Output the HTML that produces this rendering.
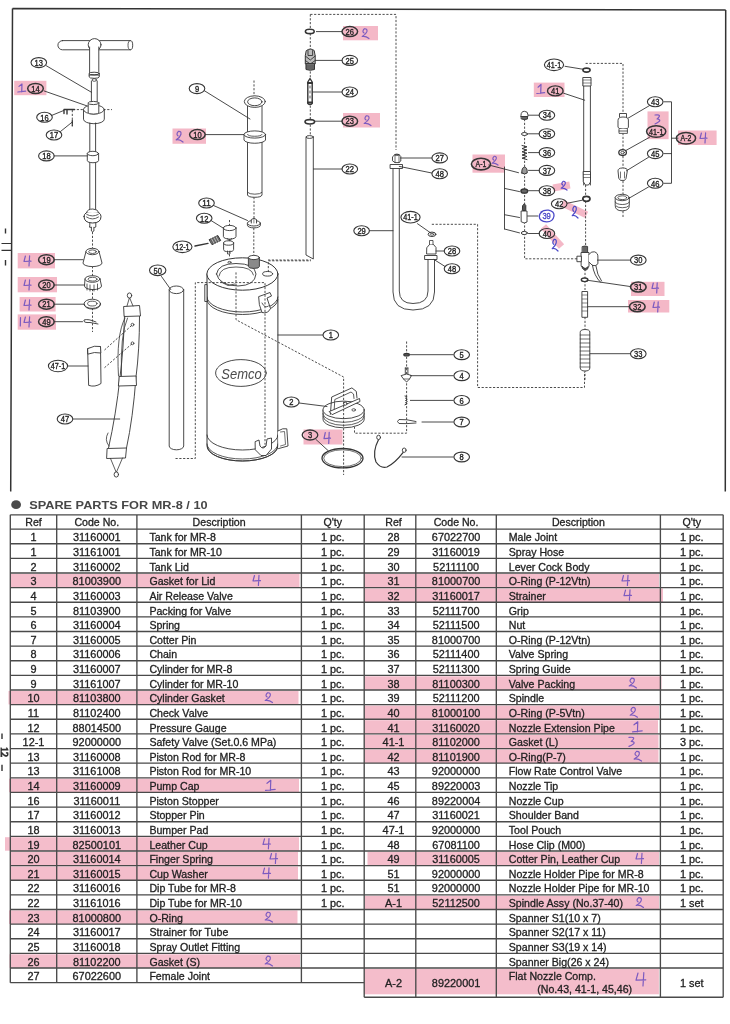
<!DOCTYPE html>
<html><head><meta charset="utf-8"><style>
html,body{margin:0;padding:0;background:#fff;}
body{width:730px;height:1024px;overflow:hidden;position:relative;}
svg{position:absolute;left:0;top:0;display:block;filter:blur(0.3px);}
</style></head><body>
<svg width="730" height="1024" viewBox="0 0 730 1024">
<g fill="#f4b2c2" opacity="0.92"><rect x="14.2" y="80.8" width="32.2" height="14.4"/><rect x="17.7" y="253.0" width="37.3" height="15.4"/><rect x="17.7" y="277.0" width="39.3" height="15.3"/><rect x="19.6" y="297.0" width="36.0" height="14.5"/><rect x="17.7" y="314.4" width="38.3" height="15.3"/><rect x="172.5" y="128.5" width="33.5" height="15.3"/><rect x="303.5" y="429.5" width="39.0" height="15.0"/><rect x="343.0" y="26.0" width="35.0" height="14.3"/><rect x="343.0" y="113.0" width="37.0" height="14.5"/><rect x="472.5" y="154.5" width="32.5" height="18.2"/><rect x="553.0" y="183.0" width="17.0" height="7.0" transform="rotate(-10 561.5 186.5)"/><rect x="561.0" y="205.5" width="27.0" height="7.0" transform="rotate(26 574.5 209.0)"/><rect x="539.0" y="233.0" width="27.0" height="7.0" transform="rotate(48 552.5 236.5)"/><rect x="533.8" y="82.6" width="30.7" height="14.4"/><rect x="631.0" y="281.8" width="33.5" height="14.2"/><rect x="628.0" y="300.0" width="41.3" height="12.5"/><rect x="647.5" y="111.4" width="21.1" height="27.8"/><rect x="678.0" y="130.5" width="38.6" height="14.5"/></g>
<g stroke="#3a3a3a" stroke-width="0.9" stroke-dasharray="2.2,1.6" fill="none"><path d="M73,109.6H112"/><path d="M72.3,110V126"/><path d="M92.5,232V332"/><path d="M104.5,350L132.5,324.7M104.5,367.7L132.5,343.3"/><path d="M254,80.5V101"/><path d="M254,197V218M253.8,228V255"/><path d="M229.5,220V258"/><path d="M406.6,341.5V433.2H354.5V409"/><path d="M477.6,224.3V387.5H584.5V372"/><path d="M310.3,14.4H396V150M310.3,14.4V136"/><path d="M268,260H311"/><path d="M431.8,224.3H477.6"/><path d="M585.6,63.4H623V113.3"/><path d="M585.6,185V196M585.6,201V246"/><path d="M524.6,119V258.8H577"/><path d="M585,269V290M585,317V329M585,370V380"/><path d="M623,133V149M623,156V168M623,181V194M623,211V218"/></g>
<g stroke="#353535" fill="none" stroke-linecap="round" stroke-linejoin="round"><path d="M12.5,8.6L725.7,9.9M12.5,8.6L10.7,491.4M725.7,9.9L725.3,491.4" stroke-width="1.5" stroke="#333" stroke-linecap="butt"/><path d="M62.5,40.6H130.3A2.4,4.6 0 0 1 130.3,49.8H62.5A4.6,4.6 0 0 1 62.5,40.6Z" stroke-width="0.9" fill="#fff" /><path d="M130.3,40.6A2.3,4.6 0 0 0 130.3,49.8" stroke-width="0.8" fill="none" /><ellipse cx="94.6" cy="44.8" rx="6.4" ry="6.2" stroke-width="0.9" fill="#fff"/><path d="M89.6,47V73.2H98.8V47" stroke-width="0.9" fill="#fff" /><path d="M89.2,73.5V77.0A5.0,1.3 0 0 0 99.2,77.0V73.5" stroke-width="0.9" fill="#fff" /><ellipse cx="94.2" cy="73.5" rx="5.0" ry="1.3" stroke-width="0.9" fill="#fff"/><path d="M89.2,75H99.2" stroke-width="1.2" fill="none" /><ellipse cx="94.3" cy="80.0" rx="2.2" ry="1.3" stroke-width="0.8" fill="none"/><path d="M91.4,81V101.5M97.2,81V101.5" stroke-width="0.9" fill="none" /><path d="M83.5,109.5V119.2A10.4,4.5 0 0 0 104.3,119.2V109.5" stroke-width="0.9" fill="#fff" /><ellipse cx="93.9" cy="109.5" rx="10.4" ry="4.5" stroke-width="0.9" fill="#fff"/><path d="M88.2,103.0V112.5A5.3,1.6 0 0 0 98.8,112.5V103.0" stroke-width="0.9" fill="#fff" /><ellipse cx="93.5" cy="103.0" rx="5.3" ry="1.6" stroke-width="0.9" fill="#fff"/><path d="M64,113.5V109.5H74.5M67,109.5V114" stroke-width="1.4" fill="none" /><path d="M72.3,120.0L72.3,126.0" stroke-width="1.2"/><path d="M89.8,123V211M95.6,123V211" stroke-width="0.9" fill="none" /><path d="M87.3,153.5V160.5A5.6,2.2 0 0 0 98.6,160.5V153.5" stroke-width="0.9" fill="#fff" /><ellipse cx="92.9" cy="153.5" rx="5.6" ry="2.2" stroke-width="0.9" fill="#fff"/><path d="M89.8,227V222H95.8V227Q94.5,228 93.9,227V231Q92.6,232.5 91.4,231V227Q90.5,228 89.8,227Z" stroke-width="0.9" fill="#fff" /><path d="M84,216.5Q84,223 92.5,223Q101,223 101,216.5Q101,211.5 92.5,211.5Q84,211.5 84,216.5Z" stroke-width="1.0" fill="#fff" /><path d="M86.5,212.5Q87.5,209 92.8,209Q97.8,209 98.8,212.5" stroke-width="0.9" fill="#fff" /><path d="M86.5,217Q92.5,221 98.5,217M86.8,214.5Q92.5,217.5 98.2,214.5" stroke-width="0.8" fill="none" /><path d="M86,251.5L83,263A9.5,3.6 0 0 0 102,263L99,251.5" stroke-width="0.9" fill="#fff" /><ellipse cx="92.5" cy="251.5" rx="6.5" ry="3.2" stroke-width="0.9" fill="#fff"/><ellipse cx="92.5" cy="251.7" rx="3.8" ry="1.8" stroke-width="0.8" fill="none"/><path d="M85,279L84.5,286A8.5,3.6 0 0 0 101.5,286L100,279" stroke-width="0.9" fill="#fff" /><ellipse cx="92.5" cy="279.0" rx="7.5" ry="3.3" stroke-width="0.9" fill="#fff"/><ellipse cx="92.5" cy="279.2" rx="4.5" ry="1.9" stroke-width="0.8" fill="none"/><path d="M87,284V290M90,285V291M94,285V291M97.5,284V290" stroke-width="0.8" fill="none" /><ellipse cx="92.3" cy="303.8" rx="8.2" ry="4.6" stroke-width="0.9" fill="#fff"/><ellipse cx="92.3" cy="303.6" rx="4.7" ry="2.4" stroke-width="0.8" fill="none"/><path d="M84.1,304.5A8.2,4.6 0 0 0 100.5,304.5" stroke-width="0.8" fill="none" /><path d="M96,322Q88,318.5 84,320Q83,323 90,322.5L98,324" stroke-width="0.9" fill="none" /><path d="M46.4,65.8L91.5,92.3" stroke-width="0.9"/><path d="M44.3,91.0L86.7,105.8" stroke-width="0.9"/><path d="M51.5,115.5L63.7,110.5" stroke-width="0.9"/><path d="M60.5,131.5L72.3,122.0" stroke-width="0.9"/><path d="M54.1,155.9L87.3,155.9" stroke-width="0.9"/><path d="M54.1,259.7L83.0,259.7" stroke-width="0.9"/><path d="M54.1,285.0L84.5,285.0" stroke-width="0.9"/><path d="M54.1,304.2L84.0,304.2" stroke-width="0.9"/><path d="M54.1,321.7L82.5,321.7" stroke-width="0.9"/><ellipse cx="38.8" cy="62.6" rx="7.8" ry="5.0" stroke-width="1.1" fill="none"/><ellipse cx="44.5" cy="117.3" rx="7.8" ry="5.0" stroke-width="1.1" fill="none"/><ellipse cx="54.0" cy="135.0" rx="7.8" ry="5.0" stroke-width="1.1" fill="none"/><ellipse cx="46.4" cy="155.9" rx="7.8" ry="5.0" stroke-width="1.1" fill="none"/><ellipse cx="35.5" cy="88.5" rx="7.8" ry="5.0" stroke-width="1.5" fill="none"/><ellipse cx="46.4" cy="259.7" rx="7.8" ry="5.0" stroke-width="1.5" fill="none"/><ellipse cx="46.4" cy="285.0" rx="7.8" ry="5.0" stroke-width="1.5" fill="none"/><ellipse cx="46.4" cy="304.2" rx="7.8" ry="5.0" stroke-width="1.5" fill="none"/><ellipse cx="46.4" cy="321.7" rx="7.8" ry="5.0" stroke-width="1.5" fill="none"/><path d="M88,348.5L100.5,346.5L101,383.5Q95,387.5 89,385.5Z" stroke-width="0.9" fill="#fff" /><path d="M88,348.5Q94.5,345 100.5,346.5L100.8,353Q94.5,351.5 88.2,354Z" stroke-width="0.9" fill="#fff" /><path d="M124.5,316Q123.5,350 120,377Q116,415 108.5,448M139.5,316Q139.5,350 136,377Q133,418 126.5,448" stroke-width="0.9" fill="none" /><path d="M125,318Q116,335 118.5,376M127.5,318Q120,335 121.5,376" stroke-width="0.8" fill="none" /><path d="M124,306.5L139.5,305.5L140.5,316L124.5,316.5Z" stroke-width="0.9" fill="#fff" /><path d="M119.5,376.5L136,376L136.5,385.5L118.8,386Z" stroke-width="0.9" fill="#fff" /><path d="M107.5,448.5L126.5,448L125.5,458L107,458.5Z" stroke-width="0.9" fill="#fff" /><path d="M127,306L129.5,297.5L133,306M110.5,458.5L116.3,472.5L122.5,458" stroke-width="0.8" fill="none" /><ellipse cx="129.5" cy="295.5" rx="2.2" ry="2.6" stroke-width="0.9" fill="#fff"/><ellipse cx="116.3" cy="474.5" rx="2.2" ry="2.6" stroke-width="0.9" fill="#fff"/><ellipse cx="132.5" cy="324.7" rx="1.4" ry="1.4" stroke-width="0.8" fill="none"/><ellipse cx="132.5" cy="343.3" rx="1.4" ry="1.4" stroke-width="0.8" fill="none"/><path d="M109,446Q104,440 108,433" stroke-width="0.8" fill="none" /><path d="M67.5,366.0L88.0,366.0" stroke-width="0.9"/><path d="M73.5,419.0L119.7,419.0" stroke-width="0.9"/><ellipse cx="58.0" cy="366.0" rx="9.6" ry="5.8" stroke-width="1.1" fill="none"/><ellipse cx="65.0" cy="419.0" rx="7.8" ry="5.0" stroke-width="1.1" fill="none"/><path d="M169.2,289.8V446.0A7.2,3.8 0 0 0 183.7,446.0V289.8" stroke-width="0.9" fill="#fff" /><ellipse cx="176.4" cy="289.8" rx="7.2" ry="3.8" stroke-width="0.9" fill="#fff"/><path d="M161.5,276.5L170.8,289.6" stroke-width="0.9"/><ellipse cx="157.7" cy="270.3" rx="8.2" ry="5.3" stroke-width="1.1" fill="none"/><path d="M247.5,104V195A7.3,2.6 0 0 0 262,195V104" stroke-width="0.9" fill="#fff" /><path d="M247.8,192.5A7.2,2.2 0 0 0 261.8,192.5" stroke-width="0.8" fill="none" /><ellipse cx="254.8" cy="101.6" rx="10.5" ry="5.8" stroke-width="0.9" fill="#fff"/><ellipse cx="254.8" cy="101.8" rx="7.2" ry="3.9" stroke-width="0.9" fill="none"/><path d="M244,134.5V140A10.8,3.6 0 0 0 265.5,140V134.5" stroke-width="0.9" fill="#fff" /><ellipse cx="254.8" cy="134.5" rx="10.8" ry="3.6" stroke-width="0.9" fill="#fff"/><path d="M247.5,134.5A7.3,2 0 0 0 262,134.5" stroke-width="0.8" fill="none" /><path d="M204.5,90.8L250.0,119.0" stroke-width="0.9"/><path d="M205.5,134.6L243.8,134.6" stroke-width="0.9"/><ellipse cx="197.0" cy="88.6" rx="7.8" ry="5.0" stroke-width="1.1" fill="none"/><ellipse cx="197.4" cy="134.6" rx="7.8" ry="5.0" stroke-width="1.5" fill="none"/><path d="M247.4,223.2V225.2A6.5,2.7 0 0 0 260.4,225.2V223.2" stroke-width="0.9" fill="#fff" /><ellipse cx="253.9" cy="223.2" rx="6.5" ry="2.8" stroke-width="0.9" fill="#fff"/><path d="M251.3,223V219.5L253.9,218.3L256.5,219.5V223" stroke-width="0.9" fill="#fff" /><path d="M253.9,218.3V223" stroke-width="0.6" fill="none" /><path d="M213.5,205.5L247.5,220.5" stroke-width="0.9"/><ellipse cx="206.5" cy="203.0" rx="7.8" ry="5.0" stroke-width="1.1" fill="none"/><path d="M223.4,228.0V236.5A6.3,2.6 0 0 0 236.0,236.5V228.0" stroke-width="0.9" fill="#fff" /><ellipse cx="229.7" cy="228.0" rx="6.3" ry="2.6" stroke-width="0.9" fill="#fff"/><path d="M227.5,238.5L229.5,241.5L231.5,238.5" stroke-width="0.8" fill="none" /><path d="M223.6,243.0V249.5A5.0,2.2 0 0 0 233.6,249.5V243.0" stroke-width="0.9" fill="#fff" /><ellipse cx="228.6" cy="243.0" rx="5.0" ry="2.2" stroke-width="0.9" fill="#fff"/><path d="M227.5,251V254H230V251" stroke-width="0.8" fill="none" /><path d="M210.5,220.2L223.4,228.2" stroke-width="0.9"/><ellipse cx="204.2" cy="218.3" rx="7.8" ry="5.0" stroke-width="1.1" fill="none"/><path d="M209.5,239.5L217.8,235.5L220.7,240.5L212.3,244.5Z" stroke-width="1.0" fill="#666" /><path d="M211.5,238.6L214.2,243.6M213.8,237.5L216.5,242.5M216,236.5L218.7,241.5" stroke-width="0.7" fill="none" stroke="#ddd"/><path d="M195.0,246.0L208.0,243.4" stroke-width="1.4"/><ellipse cx="182.4" cy="246.8" rx="9.6" ry="5.8" stroke-width="1.1" fill="none"/><path d="M207,274V446A35.45,15 0 0 0 277.9,446V274" stroke-width="1.0" fill="#fff" /><ellipse cx="242.4" cy="274.0" rx="35.5" ry="16.2" stroke-width="1.0" fill="#fff"/><path d="M207,297A35.45,15 0 0 0 277.9,297M207,299.5A35.45,15 0 0 0 277.9,299.5" stroke-width="0.9" fill="none" /><path d="M207,435A35.45,15 0 0 0 277.9,435" stroke-width="0.9" fill="none" /><path d="M207.5,446.5A35,14.5 0 0 0 277.5,446.5M207,444A35.45,15 0 0 0 277.9,444" stroke-width="0.8" fill="none" /><path d="M216.5,274Q218,263.5 236,263.5Q255,263.5 256,274Q255,285.5 238,286Q219,285.5 216.5,274Z" stroke-width="0.9" fill="#fff" /><path d="M219,276Q220,267 236,267Q252,267 253.5,275" stroke-width="0.8" fill="none" /><path d="M221,282L228,285.5L235,284" stroke-width="0.8" fill="none" /><ellipse cx="229.5" cy="262.3" rx="1.6" ry="0.9" stroke-width="0.8" fill="none"/><ellipse cx="267.6" cy="273.8" rx="5.0" ry="2.3" stroke-width="0.9" fill="none"/><path d="M248.4,257.5V266.5A5.5,1.9 0 0 0 259.4,266.5V257.5" stroke-width="0.9" fill="#8a8a8a" /><ellipse cx="253.9" cy="257.5" rx="5.5" ry="2.1" stroke-width="0.9" fill="#fff"/><path d="M204.8,285V301.5H207V285Z" stroke-width="0.9" fill="#fff" /><path d="M259,296.5L270,292.5L271.5,296L267,298L270.5,308.5Q268,314 262,312.5L259.5,305Z" stroke-width="0.9" fill="#fff" /><path d="M262,303Q265,309 268.5,306" stroke-width="0.8" fill="none" /><path d="M277.9,431L282.7,428.8H286.8L288,446L278.5,448.6" stroke-width="0.9" fill="#fff" /><path d="M280.5,432L284.5,431.5L285.5,444.5L280.5,446" stroke-width="0.7" fill="none" /><path d="M255.5,441.5L259,440L260,446Q263,450 266,446L267,439L271.5,438L271.5,449L266,455.5L261,455.5L255.5,450Z" stroke-width="0.9" fill="#fff" /><ellipse cx="240.9" cy="373.0" rx="25.3" ry="13.4" stroke-width="0.9" fill="none"/><path d="M277.9,335.0L322.8,335.0" stroke-width="0.9"/><ellipse cx="330.8" cy="335.0" rx="7.8" ry="5.0" stroke-width="1.1" fill="none"/><path d="M323,410V419A20.6,8.8 0 0 0 364.2,419V410" stroke-width="0.9" fill="#fff" /><path d="M323,413.5A20.6,8.8 0 0 0 364.2,413.5M323.2,416.5A20.4,8.8 0 0 0 364,416.5" stroke-width="0.8" fill="none" /><ellipse cx="343.6" cy="409.9" rx="20.6" ry="8.8" stroke-width="0.9" fill="#fff"/><path d="M330.4,414.3L331.7,397L351.9,387.9L356.3,391.4L357,398" stroke-width="0.9" fill="none" /><path d="M334,413L334.8,399.5L351,392L353.5,394L354,398.5" stroke-width="0.8" fill="none" /><path d="M329.5,411.5L359.5,398.5L360,401.5L332.5,414.5Z" stroke-width="0.9" fill="#fff" /><ellipse cx="345.3" cy="403.7" rx="1.8" ry="1.5" stroke-width="0.9" fill="#fff"/><ellipse cx="353.7" cy="409.9" rx="1.8" ry="1.2" stroke-width="0.8" fill="none"/><path d="M299.0,403.0L327.0,406.5" stroke-width="0.9"/><ellipse cx="291.3" cy="402.0" rx="7.8" ry="5.0" stroke-width="1.1" fill="none"/><ellipse cx="342.5" cy="458.2" rx="20.5" ry="9.7" stroke-width="1.3" fill="none"/><ellipse cx="342.5" cy="458.2" rx="18.8" ry="8.4" stroke-width="0.7" fill="none"/><path d="M316.0,439.5L328.0,450.5" stroke-width="0.9"/><ellipse cx="310.0" cy="435.0" rx="7.8" ry="5.0" stroke-width="1.3" fill="none"/><ellipse cx="406.6" cy="354.7" rx="2.8" ry="1.3" stroke-width="1.2" fill="#555"/><path d="M405.3,368V375M407.9,368V375M405.3,368H407.9" stroke-width="0.9" fill="none" /><path d="M401.5,375.5L406.6,374L411.5,375.5L409.5,379L406.6,382L403.5,379Z" stroke-width="0.9" fill="#fff" /><path d="M403.5,379H409.5" stroke-width="0.7" fill="none" /><path d="M405,396Q409,396.5 405.5,398.2Q409,398.8 405.5,400.5Q409,401 405.5,402.7Q409,403.3 405,404.8" stroke-width="1.0" fill="none" /><path d="M416,421.5Q406,419 399,419.5Q396,421.5 399,423.5Q406,424 416,423" stroke-width="0.9" fill="none" /><path d="M378.6,439.5Q372,452 376,462Q381,469 387,467Q395,463 403.2,452.3" stroke-width="1.2" fill="none" /><ellipse cx="378.6" cy="437.4" rx="1.9" ry="2.2" stroke-width="0.9" fill="#fff"/><ellipse cx="404.2" cy="450.2" rx="1.9" ry="2.2" stroke-width="0.9" fill="#fff"/><path d="M410.4,354.7L453.2,354.7" stroke-width="0.9"/><path d="M410.4,375.7L453.2,375.7" stroke-width="0.9"/><path d="M410.4,400.4L453.2,400.4" stroke-width="0.9"/><path d="M422.0,422.0L453.2,422.0" stroke-width="0.9"/><path d="M402.0,457.0L453.2,457.0" stroke-width="0.9"/><ellipse cx="461.7" cy="354.7" rx="7.8" ry="4.9" stroke-width="1.1" fill="none"/><ellipse cx="461.7" cy="375.7" rx="7.8" ry="4.9" stroke-width="1.1" fill="none"/><ellipse cx="461.7" cy="400.4" rx="7.8" ry="4.9" stroke-width="1.1" fill="none"/><ellipse cx="461.7" cy="422.0" rx="7.8" ry="4.9" stroke-width="1.1" fill="none"/><ellipse cx="461.7" cy="457.0" rx="7.8" ry="4.9" stroke-width="1.1" fill="none"/><ellipse cx="309.8" cy="31.4" rx="4.4" ry="2.2" stroke-width="1.6" fill="#fff"/><path d="M306.5,50.5Q310.3,47.5 314.2,50.5L315.2,56V64H305.3V56Z" stroke-width="1.0" fill="#bdbdbd" /><path d="M308,50.5V55.5H312.6V50.5M305.3,56L310.3,60L315.2,56M305.3,60.5L310.3,64M315.2,60.5L310.3,64" stroke-width="0.9" fill="none" /><path d="M306,64V69.5Q310.3,71 314.5,69.5V64Z" stroke-width="1.0" fill="#777" /><path d="M306,66H314.5M306,68H314.5" stroke-width="0.6" fill="none" /><path d="M307.8,82V103.5Q310,105.5 312.2,103.5V82L310,78.5Z" stroke-width="1.4" fill="#fff" /><path d="M307.8,83H312.2M307.8,102.5H312.2" stroke-width="1.8" fill="none" /><path d="M310,86V88M310,91V93M310,96V98" stroke-width="0.8" fill="none" /><ellipse cx="309.8" cy="121.8" rx="4.8" ry="2.2" stroke-width="1.6" fill="#fff"/><path d="M306,137V255L313.3,259V137" stroke-width="0.9" fill="#fff" /><ellipse cx="309.7" cy="137.0" rx="3.6" ry="1.4" stroke-width="0.9" fill="#fff"/><path d="M316.4,31.6L342.0,31.6" stroke-width="0.9"/><path d="M315.5,60.4L342.0,60.4" stroke-width="0.9"/><path d="M312.6,92.0L342.0,92.0" stroke-width="0.9"/><path d="M315.2,121.2L342.0,121.2" stroke-width="0.9"/><path d="M313.4,169.0L342.2,169.0" stroke-width="0.9"/><ellipse cx="349.8" cy="31.6" rx="7.8" ry="5.0" stroke-width="1.5" fill="none"/><ellipse cx="349.8" cy="60.4" rx="7.8" ry="5.0" stroke-width="1.1" fill="none"/><ellipse cx="349.8" cy="92.0" rx="7.8" ry="5.0" stroke-width="1.1" fill="none"/><ellipse cx="349.8" cy="121.2" rx="7.8" ry="5.0" stroke-width="1.5" fill="none"/><ellipse cx="349.8" cy="169.0" rx="7.8" ry="5.0" stroke-width="1.1" fill="none"/><path d="M393,168V292Q393,310 413,310Q434.5,310 434.5,292V259M399.3,168V291Q399.3,303.5 413,303.5Q428,303.5 428,291V259" stroke-width="0.9" fill="none" /><path d="M392.8,156.5L395,154.6H399L400.8,156.5V161L399,162.6H395L392.8,161Z" stroke-width="0.9" fill="#fff" /><path d="M395,154.6V162.6M399,154.6V162.6" stroke-width="0.7" fill="none" /><ellipse cx="396.9" cy="154.8" rx="2.0" ry="0.8" stroke-width="0.7" fill="none"/><path d="M390.5,164.5H402.5V168.5H390.5Z" stroke-width="0.9" fill="#fff" /><ellipse cx="432.0" cy="234.3" rx="3.9" ry="2.2" stroke-width="1.0" fill="#fff"/><ellipse cx="432.0" cy="234.3" rx="1.8" ry="0.9" stroke-width="0.7" fill="none"/><path d="M427,247.5L429.5,244.5H433.5L436,247.5V254H427Z" stroke-width="0.9" fill="#fff" /><path d="M429.5,244.5V240.5H433V244.5" stroke-width="0.8" fill="#fff" /><path d="M425,255.5H437V259.5H425Z" stroke-width="0.9" fill="#fff" /><path d="M400.6,158.0L431.8,158.0" stroke-width="0.9"/><path d="M399.3,166.4L431.8,173.0" stroke-width="0.9"/><path d="M369.5,230.7L393.0,230.7" stroke-width="0.9"/><path d="M417.5,223.7L430.5,232.8" stroke-width="0.9"/><path d="M436.0,251.0L444.2,251.0" stroke-width="0.9"/><path d="M434.0,259.5L444.6,266.2" stroke-width="0.9"/><ellipse cx="439.7" cy="157.9" rx="7.8" ry="5.0" stroke-width="1.1" fill="none"/><ellipse cx="439.7" cy="173.7" rx="7.8" ry="5.0" stroke-width="1.1" fill="none"/><ellipse cx="361.6" cy="230.7" rx="7.8" ry="5.0" stroke-width="1.1" fill="none"/><ellipse cx="410.5" cy="217.2" rx="9.6" ry="5.8" stroke-width="1.1" fill="none"/><ellipse cx="452.0" cy="251.0" rx="7.8" ry="5.0" stroke-width="1.1" fill="none"/><ellipse cx="452.0" cy="268.7" rx="7.8" ry="5.0" stroke-width="1.1" fill="none"/><ellipse cx="586.5" cy="70.1" rx="3.6" ry="2.0" stroke-width="1.6" fill="#fff"/><path d="M583.7,80V185M590.4,80V185" stroke-width="0.9" fill="none" /><path d="M583.2,77.5H591V86H583.2Z" stroke-width="0.9" fill="#fff" /><path d="M583.2,80H591M583.2,83H591" stroke-width="0.6" fill="none" /><path d="M583.5,171.5H590.5V182L588.5,185H585.5L583.5,182Z" stroke-width="0.9" fill="#fff" /><path d="M583.5,174.5H590.5M583.5,177.5H590.5" stroke-width="0.6" fill="none" /><ellipse cx="586.4" cy="198.8" rx="3.6" ry="2.5" stroke-width="1.7" fill="#fff"/><path d="M565.0,66.3L582.7,69.2" stroke-width="0.9"/><path d="M563.6,93.2L584.7,100.2" stroke-width="0.9"/><path d="M567.4,203.2L581.8,200.3" stroke-width="0.9"/><path d="M521,115Q521,111.3 524.5,111.3Q528,111.3 528,115V116.5H521Z" stroke-width="0.9" fill="#fff" /><path d="M521.5,116.5H527.5V119Q524.5,120.3 521.5,119Z" stroke-width="0.9" fill="#666" /><ellipse cx="524.5" cy="134.0" rx="3.0" ry="1.5" stroke-width="1.0" fill="#fff"/><path d="M522,145.5L527,146.8L522,148.6L527,150L522,151.8L527,153.2L522,155L527,156.4L522,158.2L527,159.6" stroke-width="1.0" fill="none" /><path d="M521.8,173Q521.5,167.5 524.5,167Q527.5,167.5 527.2,173Q524.5,175 521.8,173Z" stroke-width="1.0" fill="#999" /><ellipse cx="524.3" cy="191.0" rx="3.4" ry="2.2" stroke-width="1.3" fill="#666"/><path d="M522.8,205.5L524.3,203.8L525.8,205.5V210.5H522.8Z" stroke-width="1.0" fill="#555" /><path d="M521.5,211H527V222Q524.2,224 521.5,222Z" stroke-width="0.9" fill="#fff" /><ellipse cx="524.3" cy="233.0" rx="3.0" ry="1.6" stroke-width="1.0" fill="#fff"/><path d="M528.5,115.2L539.4,115.2" stroke-width="0.9"/><path d="M528.5,133.8L539.4,133.8" stroke-width="0.9"/><path d="M528.5,152.6L539.4,152.6" stroke-width="0.9"/><path d="M528.5,170.4L539.4,170.4" stroke-width="0.9"/><path d="M528.5,190.7L539.4,190.7" stroke-width="0.9"/><path d="M528.5,233.5L539.4,233.5" stroke-width="0.9"/><path d="M527.5,216.0L537.8,216.0" stroke-width="0.9"/><path d="M488.8,165.0L518.5,172.7" stroke-width="0.9"/><path d="M504.5,167V229M504.5,188.4L519.5,191.6M504.5,214.7L519.5,217.5M504.5,229L519.5,232.9" stroke-width="0.9" fill="none" /><ellipse cx="546.9" cy="115.2" rx="7.8" ry="5.0" stroke-width="1.1" fill="none"/><ellipse cx="546.9" cy="133.8" rx="7.8" ry="5.0" stroke-width="1.1" fill="none"/><ellipse cx="546.9" cy="152.6" rx="7.8" ry="5.0" stroke-width="1.1" fill="none"/><ellipse cx="546.9" cy="170.4" rx="7.8" ry="5.0" stroke-width="1.1" fill="none"/><ellipse cx="546.9" cy="190.7" rx="7.8" ry="5.0" stroke-width="1.1" fill="none"/><ellipse cx="546.9" cy="233.5" rx="7.8" ry="5.0" stroke-width="1.1" fill="none"/><ellipse cx="559.2" cy="203.7" rx="7.8" ry="5.0" stroke-width="1.1" fill="none"/><ellipse cx="555.3" cy="90.9" rx="7.8" ry="5.0" stroke-width="1.4" fill="none"/><ellipse cx="554.0" cy="64.8" rx="9.6" ry="5.8" stroke-width="1.1" fill="none"/><ellipse cx="481.0" cy="164.1" rx="9.6" ry="5.8" stroke-width="1.6" fill="none"/><path d="M582.5,246.5Q585,245.5 587.6,246.5V252.5H582.5Z" stroke-width="0.9" fill="#666" /><path d="M581.4,252.5H589V266.5Q585.2,271 581.4,266.5Z" stroke-width="0.9" fill="#fff" /><path d="M577.3,256.2H581.4V261.7H577.3Z" stroke-width="0.9" fill="#fff" /><path d="M582.5,266.5Q585.2,270.5 588,266.5V268.5Q585.2,272 582.5,268.5Z" stroke-width="0.9" fill="#555" /><path d="M589,254.5Q591,251 594.4,251.8Q598.2,253 597.9,257V263.8Q596,266.5 592.5,265.5L589,262" stroke-width="0.9" fill="#fff" /><path d="M592.4,265Q594,276 600.6,282.3M595.8,265.5Q597,275 601.5,281" stroke-width="0.9" fill="none" /><ellipse cx="584.6" cy="279.8" rx="3.3" ry="1.8" stroke-width="1.4" fill="#fff"/><path d="M582.3,291.5H587.6V317.3H582.3Z" stroke-width="0.9" fill="#fff" /><path d="M582.3,295H587.6M582.3,299H587.6M582.3,303H587.6M582.3,307H587.6M582.3,311H587.6" stroke-width="0.6" fill="none" /><path d="M580.2,332Q580.2,329.5 585,329.5Q589.8,329.5 589.8,332V368Q589.8,371 585,371Q580.2,371 580.2,368Z" stroke-width="0.9" fill="#fff" /><path d="M580.2,335H589.8M580.2,339H589.8M580.2,343H589.8M580.2,347H589.8M580.2,351H589.8M580.2,355H589.8M580.2,359H589.8M580.2,363H589.8M580.2,367H589.8" stroke-width="0.7" fill="none" /><path d="M597.4,260.1L630.6,260.1" stroke-width="0.9"/><path d="M587.0,280.2L630.8,286.6" stroke-width="0.9"/><path d="M587.8,306.7L629.3,306.7" stroke-width="0.9"/><path d="M590.0,353.7L630.6,353.7" stroke-width="0.9"/><ellipse cx="638.3" cy="260.1" rx="7.8" ry="5.0" stroke-width="1.1" fill="none"/><ellipse cx="638.3" cy="287.0" rx="7.8" ry="5.0" stroke-width="1.6" fill="none"/><ellipse cx="637.3" cy="306.7" rx="7.8" ry="5.0" stroke-width="1.6" fill="none"/><ellipse cx="638.3" cy="353.7" rx="7.8" ry="5.0" stroke-width="1.1" fill="none"/><path d="M619.5,117V113.5H626.5V117" stroke-width="0.9" fill="#fff" /><path d="M618,120Q618,117 623,117Q628.4,117 628.4,120V127.5Q628.4,129 623,129Q618,129 618,127.5Z" stroke-width="0.9" fill="#fff" /><path d="M619,129V133.4H627.4V129M619,131H627.4" stroke-width="0.8" fill="#fff" /><ellipse cx="622.6" cy="152.6" rx="3.8" ry="2.9" stroke-width="1.3" fill="#fff"/><ellipse cx="622.6" cy="152.6" rx="1.8" ry="1.2" stroke-width="0.8" fill="none"/><path d="M618,170.5Q618,168 622.6,168Q627.4,168 627.4,170.5L626,178.5L624.5,180.4H620.5L619,178.5Z" stroke-width="0.9" fill="#fff" /><path d="M620.5,172V178M624.5,172V178" stroke-width="0.7" fill="none" /><path d="M615.2,197.5V205.5Q615.2,210.8 622.2,210.8Q629.3,210.8 629.3,205.5V197.5" stroke-width="0.9" fill="#fff" /><ellipse cx="622.2" cy="197.5" rx="7.0" ry="3.2" stroke-width="0.9" fill="#fff"/><ellipse cx="622.2" cy="197.7" rx="4.4" ry="1.9" stroke-width="0.8" fill="none"/><path d="M615.2,202A7,2.5 0 0 0 629.3,202M616,206A6.5,2.3 0 0 0 628.6,206" stroke-width="0.8" fill="none" /><path d="M649.5,105.6L628.4,118.0" stroke-width="0.9"/><path d="M649.5,137.3L625.5,150.7" stroke-width="0.9"/><path d="M648.5,157.3L626.4,170.8" stroke-width="0.9"/><path d="M648.5,187.0L628.4,198.6" stroke-width="0.9"/><path d="M663.8,101.8H671.5V183.3H663.8M663.8,153.6H671.5M671.5,138.2H678" stroke-width="0.9" fill="none" /><ellipse cx="655.2" cy="101.8" rx="7.8" ry="5.0" stroke-width="1.1" fill="none"/><ellipse cx="656.2" cy="131.5" rx="9.6" ry="5.8" stroke-width="1.5" fill="none"/><ellipse cx="655.2" cy="153.6" rx="7.8" ry="5.0" stroke-width="1.1" fill="none"/><ellipse cx="655.2" cy="183.3" rx="7.8" ry="5.0" stroke-width="1.1" fill="none"/><ellipse cx="686.0" cy="138.2" rx="9.6" ry="5.8" stroke-width="1.5" fill="none"/></g>
<g stroke="#3a3a3a" stroke-width="0.9" stroke-dasharray="2.2,1.6" fill="none"><path d="M175.5,458.5H195.3V282.6H265V444.7"/><path d="M236,272.4V319.7L343.6,377V475"/><path d="M268.3,272V260.8H311"/></g>
<g font-family="Liberation Sans" font-size="9" fill="#222" stroke="#222" stroke-width="0.35"><text x="38.8" y="65.8" text-anchor="middle" textLength="8.4" lengthAdjust="spacingAndGlyphs">13</text><text x="44.5" y="120.5" text-anchor="middle" textLength="8.4" lengthAdjust="spacingAndGlyphs">16</text><text x="54.0" y="138.2" text-anchor="middle" textLength="8.4" lengthAdjust="spacingAndGlyphs">17</text><text x="46.4" y="159.1" text-anchor="middle" textLength="8.4" lengthAdjust="spacingAndGlyphs">18</text><text x="35.5" y="91.7" text-anchor="middle" textLength="8.4" lengthAdjust="spacingAndGlyphs">14</text><text x="46.4" y="262.9" text-anchor="middle" textLength="8.4" lengthAdjust="spacingAndGlyphs">19</text><text x="46.4" y="288.2" text-anchor="middle" textLength="8.4" lengthAdjust="spacingAndGlyphs">20</text><text x="46.4" y="307.4" text-anchor="middle" textLength="8.4" lengthAdjust="spacingAndGlyphs">21</text><text x="46.4" y="324.9" text-anchor="middle" textLength="8.4" lengthAdjust="spacingAndGlyphs">49</text><text x="58.0" y="369.2" text-anchor="middle" textLength="14.4" lengthAdjust="spacingAndGlyphs">47-1</text><text x="65.0" y="422.2" text-anchor="middle" textLength="8.4" lengthAdjust="spacingAndGlyphs">47</text><text x="157.7" y="273.5" text-anchor="middle" textLength="8.4" lengthAdjust="spacingAndGlyphs">50</text><text x="197.0" y="91.8" text-anchor="middle" textLength="4.2" lengthAdjust="spacingAndGlyphs">9</text><text x="197.4" y="137.8" text-anchor="middle" textLength="8.4" lengthAdjust="spacingAndGlyphs">10</text><text x="206.5" y="206.2" text-anchor="middle" textLength="8.4" lengthAdjust="spacingAndGlyphs">11</text><text x="204.2" y="221.5" text-anchor="middle" textLength="8.4" lengthAdjust="spacingAndGlyphs">12</text><text x="182.4" y="250.0" text-anchor="middle" textLength="14.4" lengthAdjust="spacingAndGlyphs">12-1</text><text x="241.5" y="379.3" text-anchor="middle" font-family="Liberation Sans" font-style="italic" font-size="14" textLength="40.4" lengthAdjust="spacingAndGlyphs" fill="#4a4a4a" stroke="none">Semco</text><text x="330.8" y="338.2" text-anchor="middle" textLength="4.2" lengthAdjust="spacingAndGlyphs">1</text><text x="291.3" y="405.2" text-anchor="middle" textLength="4.2" lengthAdjust="spacingAndGlyphs">2</text><text x="310.0" y="438.2" text-anchor="middle" textLength="4.2" lengthAdjust="spacingAndGlyphs">3</text><text x="461.7" y="357.9" text-anchor="middle" textLength="4.2" lengthAdjust="spacingAndGlyphs">5</text><text x="461.7" y="378.9" text-anchor="middle" textLength="4.2" lengthAdjust="spacingAndGlyphs">4</text><text x="461.7" y="403.6" text-anchor="middle" textLength="4.2" lengthAdjust="spacingAndGlyphs">6</text><text x="461.7" y="425.2" text-anchor="middle" textLength="4.2" lengthAdjust="spacingAndGlyphs">7</text><text x="461.7" y="460.2" text-anchor="middle" textLength="4.2" lengthAdjust="spacingAndGlyphs">8</text><text x="349.8" y="34.8" text-anchor="middle" textLength="8.4" lengthAdjust="spacingAndGlyphs">26</text><text x="349.8" y="63.6" text-anchor="middle" textLength="8.4" lengthAdjust="spacingAndGlyphs">25</text><text x="349.8" y="95.2" text-anchor="middle" textLength="8.4" lengthAdjust="spacingAndGlyphs">24</text><text x="349.8" y="124.4" text-anchor="middle" textLength="8.4" lengthAdjust="spacingAndGlyphs">23</text><text x="349.8" y="172.2" text-anchor="middle" textLength="8.4" lengthAdjust="spacingAndGlyphs">22</text><text x="439.7" y="161.1" text-anchor="middle" textLength="8.4" lengthAdjust="spacingAndGlyphs">27</text><text x="439.7" y="176.9" text-anchor="middle" textLength="8.4" lengthAdjust="spacingAndGlyphs">48</text><text x="361.6" y="233.9" text-anchor="middle" textLength="8.4" lengthAdjust="spacingAndGlyphs">29</text><text x="410.5" y="220.4" text-anchor="middle" textLength="14.4" lengthAdjust="spacingAndGlyphs">41-1</text><text x="452.0" y="254.2" text-anchor="middle" textLength="8.4" lengthAdjust="spacingAndGlyphs">28</text><text x="452.0" y="271.9" text-anchor="middle" textLength="8.4" lengthAdjust="spacingAndGlyphs">48</text><text x="546.9" y="118.4" text-anchor="middle" textLength="8.4" lengthAdjust="spacingAndGlyphs">34</text><text x="546.9" y="137.0" text-anchor="middle" textLength="8.4" lengthAdjust="spacingAndGlyphs">35</text><text x="546.9" y="155.8" text-anchor="middle" textLength="8.4" lengthAdjust="spacingAndGlyphs">36</text><text x="546.9" y="173.6" text-anchor="middle" textLength="8.4" lengthAdjust="spacingAndGlyphs">37</text><text x="546.9" y="193.9" text-anchor="middle" textLength="8.4" lengthAdjust="spacingAndGlyphs">38</text><text x="546.9" y="236.7" text-anchor="middle" textLength="8.4" lengthAdjust="spacingAndGlyphs">40</text><text x="559.2" y="206.9" text-anchor="middle" textLength="8.4" lengthAdjust="spacingAndGlyphs">42</text><text x="555.3" y="94.1" text-anchor="middle" textLength="8.4" lengthAdjust="spacingAndGlyphs">41</text><text x="554.0" y="68.0" text-anchor="middle" textLength="14.4" lengthAdjust="spacingAndGlyphs">41-1</text><text x="481.0" y="167.3" text-anchor="middle" textLength="10.8" lengthAdjust="spacingAndGlyphs">A-1</text><text x="546.6" y="219" text-anchor="middle" textLength="8.4" lengthAdjust="spacingAndGlyphs" fill="#4a48c8" stroke="#4a48c8">39</text><text x="638.3" y="263.3" text-anchor="middle" textLength="8.4" lengthAdjust="spacingAndGlyphs">30</text><text x="638.3" y="290.2" text-anchor="middle" textLength="8.4" lengthAdjust="spacingAndGlyphs">31</text><text x="637.3" y="309.9" text-anchor="middle" textLength="8.4" lengthAdjust="spacingAndGlyphs">32</text><text x="638.3" y="356.9" text-anchor="middle" textLength="8.4" lengthAdjust="spacingAndGlyphs">33</text><text x="655.2" y="105.0" text-anchor="middle" textLength="8.4" lengthAdjust="spacingAndGlyphs">43</text><text x="656.2" y="134.7" text-anchor="middle" textLength="14.4" lengthAdjust="spacingAndGlyphs">41-1</text><text x="655.2" y="156.8" text-anchor="middle" textLength="8.4" lengthAdjust="spacingAndGlyphs">45</text><text x="655.2" y="186.5" text-anchor="middle" textLength="8.4" lengthAdjust="spacingAndGlyphs">46</text><text x="686.0" y="141.4" text-anchor="middle" textLength="10.8" lengthAdjust="spacingAndGlyphs">A-2</text></g>
<g stroke="#7c5bc0" stroke-width="1.2" fill="none" stroke-linecap="round" stroke-linejoin="round"><path d="M19.0,86.4 L22.0,84.0 L21.7,92.0 M17.8,92.0 L25.6,91.2"/><path d="M25.4,256.0 L24.0,261.5 L31.0,261.2 M29.6,255.8 L29.0,266.0"/><path d="M25.4,280.0 L24.0,285.5 L31.0,285.2 M29.6,279.8 L29.0,290.0"/><path d="M25.4,300.0 L24.0,305.5 L31.0,305.2 M29.6,299.8 L29.0,310.0"/><path d="M25.4,317.0 L24.0,322.5 L31.0,322.2 M29.6,316.8 L29.0,327.0"/><path d="M20.5,317.5L20.3,326"/><path d="M178.1,135.9 Q175.7,134.3 178.4,131.3 Q181.6,131.0 180.9,134.5 Q180.2,137.1 176.2,139.8 Q179.5,138.9 183.0,142.0"/><path d="M325.3,432.5 L324.0,438.6 L330.5,438.2 M329.2,432.3 L328.7,443.5"/><path d="M364.1,33.0 Q361.6,31.5 364.4,28.8 Q367.6,28.5 366.9,31.7 Q366.2,34.0 362.2,36.5 Q365.5,35.7 369.0,38.5"/><path d="M366.1,120.0 Q363.6,118.5 366.4,115.8 Q369.6,115.5 368.9,118.7 Q368.2,121.0 364.2,123.5 Q367.5,122.7 371.0,125.5"/><path d="M493.8,160.1 Q491.7,158.7 494.1,156.3 Q496.8,156.0 496.2,158.9 Q495.6,160.9 492.2,163.2 Q495.0,162.5 498.0,165.0"/><path stroke="#5a48c8" d="M562.8,185.1 Q560.7,183.7 563.1,181.3 Q565.8,181.0 565.2,183.9 Q564.6,185.9 561.2,188.2 Q564.0,187.5 567.0,190.0"/><path stroke="#4a48c8" d="M573.8,211.4 Q571.7,209.6 574.1,206.4 Q576.8,206.0 576.2,209.8 Q575.6,212.6 572.2,215.6 Q575.0,214.6 578.0,218.0"/><path stroke="#4a48c8" d="M553.8,244.4 Q551.7,242.6 554.1,239.4 Q556.8,239.0 556.2,242.8 Q555.6,245.6 552.2,248.6 Q555.0,247.6 558.0,251.0"/><path d="M538.0,87.2 L541.0,84.5 L540.7,93.5 M536.8,93.5 L544.6,92.6"/><path stroke="#4a48c8" stroke-width="1.3" d="M541,212Q544,209.8 548.5,210.2Q554.5,211.5 554,216Q553,222 546.5,221.8Q539.5,221.5 539.3,216.5Q539.2,213.5 542.5,211.5"/><path d="M653.3,283.0 L652.0,288.5 L658.5,288.2 M657.2,282.8 L656.7,293.0"/><path d="M654.3,302.0 L653.0,307.5 L659.5,307.2 M658.2,301.8 L657.7,312.0"/><path d="M655.0,115.0 Q662.7,114.0 657.1,119.0 Q663.4,120.0 655.0,124.0"/><path d="M701.4,133.0 L700.0,138.5 L707.0,138.2 M705.6,132.8 L705.0,143.0"/></g>
<g stroke="#333" fill="none"><path d="M5.5,228.4V233.4M5.5,260V265.5" stroke-width="1.4"/><path d="M1.5,243.5H11M1.5,250.3H11" stroke-width="1.2"/><path d="M2,733.5V739M2,764.7V771" stroke-width="1.4"/><text x="747" y="-0.5" transform="rotate(90)" font-size="10" fill="#333">12</text></g>
<ellipse cx="16.1" cy="504.7" rx="4.9" ry="4.35" fill="#4a4a4a"/>
<text x="29.2" y="508.8" font-family="Liberation Sans" font-weight="bold" font-size="11.6" fill="#474747" textLength="178.4" lengthAdjust="spacingAndGlyphs">SPARE PARTS FOR MR-8 / 10</text>
<g fill="#f3b6c6" opacity="0.9"><rect x="10.3" y="573.9" width="289.2" height="13.5"/><rect x="8.5" y="690.9" width="290.0" height="13.5"/><rect x="9.0" y="778.7" width="290.0" height="13.5"/><rect x="5.0" y="837.2" width="294.0" height="13.5"/><rect x="10.0" y="851.9" width="288.0" height="13.5"/><rect x="10.0" y="866.5" width="288.0" height="13.5"/><rect x="9.0" y="910.4" width="288.5" height="13.5"/><rect x="9.5" y="954.3" width="290.5" height="13.5"/><rect x="364.2" y="573.9" width="294.8" height="13.5"/><rect x="364.2" y="588.5" width="298.8" height="13.5"/><rect x="364.2" y="676.3" width="297.3" height="13.5"/><rect x="364.2" y="705.6" width="294.8" height="13.5"/><rect x="364.2" y="720.2" width="293.8" height="13.5"/><rect x="364.2" y="734.8" width="294.3" height="13.5"/><rect x="364.2" y="749.5" width="294.3" height="13.5"/><rect x="367.5" y="851.9" width="291.5" height="13.5"/><rect x="365.0" y="895.8" width="294.0" height="13.5"/><rect x="364.2" y="969.0" width="294.7" height="25.3"/></g>
<path d="M10.3,529.10H364.2M10.3,543.73H364.2M10.3,558.36H364.2M10.3,572.99H364.2M10.3,587.62H364.2M10.3,602.25H364.2M10.3,616.88H364.2M10.3,631.51H364.2M10.3,646.14H364.2M10.3,660.77H364.2M10.3,675.40H364.2M10.3,690.03H364.2M10.3,704.66H364.2M10.3,719.29H364.2M10.3,733.92H364.2M10.3,748.55H364.2M10.3,763.18H364.2M10.3,777.81H364.2M10.3,792.44H364.2M10.3,807.07H364.2M10.3,821.70H364.2M10.3,836.33H364.2M10.3,850.96H364.2M10.3,865.59H364.2M10.3,880.22H364.2M10.3,894.85H364.2M10.3,909.48H364.2M10.3,924.11H364.2M10.3,938.74H364.2M10.3,953.37H364.2M10.3,968.00H364.2M10.3,982.63H364.2M10.3,514.80H364.2M10.3,514.80V982.63M56.7,514.80V982.63M136.9,514.80V982.63M301.4,514.80V982.63M364.2,514.80V982.63M364.2,529.10H723.2M364.2,543.73H723.2M364.2,558.36H723.2M364.2,572.99H723.2M364.2,587.62H723.2M364.2,602.25H723.2M364.2,616.88H723.2M364.2,631.51H723.2M364.2,646.14H723.2M364.2,660.77H723.2M364.2,675.40H723.2M364.2,690.03H723.2M364.2,704.66H723.2M364.2,719.29H723.2M364.2,733.92H723.2M364.2,748.55H723.2M364.2,763.18H723.2M364.2,777.81H723.2M364.2,792.44H723.2M364.2,807.07H723.2M364.2,821.70H723.2M364.2,836.33H723.2M364.2,850.96H723.2M364.2,865.59H723.2M364.2,880.22H723.2M364.2,894.85H723.2M364.2,909.48H723.2M364.2,924.11H723.2M364.2,938.74H723.2M364.2,953.37H723.2M364.2,968.00H723.2M364.2,514.80H723.2M364.2,997.26H723.2M364.2,514.80V997.26M415.8,514.80V997.26M496.3,514.80V997.26M660.4,514.80V997.26M723.2,514.80V997.26" stroke="#4a4a4a" stroke-width="1.35" fill="none"/>
<g font-family="Liberation Sans" fill="#222" stroke="#222" stroke-width="0.3"><text x="33.5" y="526.2" text-anchor="middle" font-size="10.6">Ref</text><text x="96.8" y="526.2" text-anchor="middle" font-size="10.6">Code No.</text><text x="219.1" y="526.2" text-anchor="middle" font-size="10.6">Description</text><text x="332.8" y="526.2" text-anchor="middle" font-size="10.6">Q'ty</text><text x="33.5" y="541.3" text-anchor="middle" font-size="10.9">1</text><text x="96.8" y="541.3" text-anchor="middle" font-size="10.9">31160001</text><text x="149.4" y="541.3" font-size="10.6">Tank for MR-8</text><text x="332.8" y="541.3" text-anchor="middle" font-size="10.9">1 pc.</text><text x="33.5" y="555.9" text-anchor="middle" font-size="10.9">1</text><text x="96.8" y="555.9" text-anchor="middle" font-size="10.9">31161001</text><text x="149.4" y="555.9" font-size="10.6">Tank for MR-10</text><text x="332.8" y="555.9" text-anchor="middle" font-size="10.9">1 pc.</text><text x="33.5" y="570.6" text-anchor="middle" font-size="10.9">2</text><text x="96.8" y="570.6" text-anchor="middle" font-size="10.9">31160002</text><text x="149.4" y="570.6" font-size="10.6">Tank Lid</text><text x="332.8" y="570.6" text-anchor="middle" font-size="10.9">1 pc.</text><text x="33.5" y="585.2" text-anchor="middle" font-size="10.9">3</text><text x="96.8" y="585.2" text-anchor="middle" font-size="10.9">81003900</text><text x="149.4" y="585.2" font-size="10.6">Gasket for Lid</text><text x="332.8" y="585.2" text-anchor="middle" font-size="10.9">1 pc.</text><text x="33.5" y="599.8" text-anchor="middle" font-size="10.9">4</text><text x="96.8" y="599.8" text-anchor="middle" font-size="10.9">31160003</text><text x="149.4" y="599.8" font-size="10.6">Air Release Valve</text><text x="332.8" y="599.8" text-anchor="middle" font-size="10.9">1 pc.</text><text x="33.5" y="614.5" text-anchor="middle" font-size="10.9">5</text><text x="96.8" y="614.5" text-anchor="middle" font-size="10.9">81103900</text><text x="149.4" y="614.5" font-size="10.6">Packing for Valve</text><text x="332.8" y="614.5" text-anchor="middle" font-size="10.9">1 pc.</text><text x="33.5" y="629.1" text-anchor="middle" font-size="10.9">6</text><text x="96.8" y="629.1" text-anchor="middle" font-size="10.9">31160004</text><text x="149.4" y="629.1" font-size="10.6">Spring</text><text x="332.8" y="629.1" text-anchor="middle" font-size="10.9">1 pc.</text><text x="33.5" y="643.7" text-anchor="middle" font-size="10.9">7</text><text x="96.8" y="643.7" text-anchor="middle" font-size="10.9">31160005</text><text x="149.4" y="643.7" font-size="10.6">Cotter Pin</text><text x="332.8" y="643.7" text-anchor="middle" font-size="10.9">1 pc.</text><text x="33.5" y="658.3" text-anchor="middle" font-size="10.9">8</text><text x="96.8" y="658.3" text-anchor="middle" font-size="10.9">31160006</text><text x="149.4" y="658.3" font-size="10.6">Chain</text><text x="332.8" y="658.3" text-anchor="middle" font-size="10.9">1 pc.</text><text x="33.5" y="673.0" text-anchor="middle" font-size="10.9">9</text><text x="96.8" y="673.0" text-anchor="middle" font-size="10.9">31160007</text><text x="149.4" y="673.0" font-size="10.6">Cylinder for MR-8</text><text x="332.8" y="673.0" text-anchor="middle" font-size="10.9">1 pc.</text><text x="33.5" y="687.6" text-anchor="middle" font-size="10.9">9</text><text x="96.8" y="687.6" text-anchor="middle" font-size="10.9">31161007</text><text x="149.4" y="687.6" font-size="10.6">Cylinder for MR-10</text><text x="332.8" y="687.6" text-anchor="middle" font-size="10.9">1 pc.</text><text x="33.5" y="702.2" text-anchor="middle" font-size="10.9">10</text><text x="96.8" y="702.2" text-anchor="middle" font-size="10.9">81103800</text><text x="149.4" y="702.2" font-size="10.6">Cylinder Gasket</text><text x="332.8" y="702.2" text-anchor="middle" font-size="10.9">1 pc.</text><text x="33.5" y="716.9" text-anchor="middle" font-size="10.9">11</text><text x="96.8" y="716.9" text-anchor="middle" font-size="10.9">81102400</text><text x="149.4" y="716.9" font-size="10.6">Check Valve</text><text x="332.8" y="716.9" text-anchor="middle" font-size="10.9">1 pc.</text><text x="33.5" y="731.5" text-anchor="middle" font-size="10.9">12</text><text x="96.8" y="731.5" text-anchor="middle" font-size="10.9">88014500</text><text x="149.4" y="731.5" font-size="10.6">Pressure Gauge</text><text x="332.8" y="731.5" text-anchor="middle" font-size="10.9">1 pc.</text><text x="33.5" y="746.1" text-anchor="middle" font-size="10.9">12-1</text><text x="96.8" y="746.1" text-anchor="middle" font-size="10.9">92000000</text><text x="149.4" y="746.1" font-size="10.6">Safety Valve (Set.0.6 MPa)</text><text x="332.8" y="746.1" text-anchor="middle" font-size="10.9">1 pc.</text><text x="33.5" y="760.8" text-anchor="middle" font-size="10.9">13</text><text x="96.8" y="760.8" text-anchor="middle" font-size="10.9">31160008</text><text x="149.4" y="760.8" font-size="10.6">Piston Rod for MR-8</text><text x="332.8" y="760.8" text-anchor="middle" font-size="10.9">1 pc.</text><text x="33.5" y="775.4" text-anchor="middle" font-size="10.9">13</text><text x="96.8" y="775.4" text-anchor="middle" font-size="10.9">31161008</text><text x="149.4" y="775.4" font-size="10.6">Piston Rod for MR-10</text><text x="332.8" y="775.4" text-anchor="middle" font-size="10.9">1 pc.</text><text x="33.5" y="790.0" text-anchor="middle" font-size="10.9">14</text><text x="96.8" y="790.0" text-anchor="middle" font-size="10.9">31160009</text><text x="149.4" y="790.0" font-size="10.6">Pump Cap</text><text x="332.8" y="790.0" text-anchor="middle" font-size="10.9">1 pc.</text><text x="33.5" y="804.6" text-anchor="middle" font-size="10.9">16</text><text x="96.8" y="804.6" text-anchor="middle" font-size="10.9">31160011</text><text x="149.4" y="804.6" font-size="10.6">Piston Stopper</text><text x="332.8" y="804.6" text-anchor="middle" font-size="10.9">1 pc.</text><text x="33.5" y="819.3" text-anchor="middle" font-size="10.9">17</text><text x="96.8" y="819.3" text-anchor="middle" font-size="10.9">31160012</text><text x="149.4" y="819.3" font-size="10.6">Stopper Pin</text><text x="332.8" y="819.3" text-anchor="middle" font-size="10.9">1 pc.</text><text x="33.5" y="833.9" text-anchor="middle" font-size="10.9">18</text><text x="96.8" y="833.9" text-anchor="middle" font-size="10.9">31160013</text><text x="149.4" y="833.9" font-size="10.6">Bumper Pad</text><text x="332.8" y="833.9" text-anchor="middle" font-size="10.9">1 pc.</text><text x="33.5" y="848.5" text-anchor="middle" font-size="10.9">19</text><text x="96.8" y="848.5" text-anchor="middle" font-size="10.9">82500101</text><text x="149.4" y="848.5" font-size="10.6">Leather Cup</text><text x="332.8" y="848.5" text-anchor="middle" font-size="10.9">1 pc.</text><text x="33.5" y="863.2" text-anchor="middle" font-size="10.9">20</text><text x="96.8" y="863.2" text-anchor="middle" font-size="10.9">31160014</text><text x="149.4" y="863.2" font-size="10.6">Finger Spring</text><text x="332.8" y="863.2" text-anchor="middle" font-size="10.9">1 pc.</text><text x="33.5" y="877.8" text-anchor="middle" font-size="10.9">21</text><text x="96.8" y="877.8" text-anchor="middle" font-size="10.9">31160015</text><text x="149.4" y="877.8" font-size="10.6">Cup Washer</text><text x="332.8" y="877.8" text-anchor="middle" font-size="10.9">1 pc.</text><text x="33.5" y="892.4" text-anchor="middle" font-size="10.9">22</text><text x="96.8" y="892.4" text-anchor="middle" font-size="10.9">31160016</text><text x="149.4" y="892.4" font-size="10.6">Dip Tube for MR-8</text><text x="332.8" y="892.4" text-anchor="middle" font-size="10.9">1 pc.</text><text x="33.5" y="907.1" text-anchor="middle" font-size="10.9">22</text><text x="96.8" y="907.1" text-anchor="middle" font-size="10.9">31161016</text><text x="149.4" y="907.1" font-size="10.6">Dip Tube for MR-10</text><text x="332.8" y="907.1" text-anchor="middle" font-size="10.9">1 pc.</text><text x="33.5" y="921.7" text-anchor="middle" font-size="10.9">23</text><text x="96.8" y="921.7" text-anchor="middle" font-size="10.9">81000800</text><text x="149.4" y="921.7" font-size="10.6">O-Ring</text><text x="33.5" y="936.3" text-anchor="middle" font-size="10.9">24</text><text x="96.8" y="936.3" text-anchor="middle" font-size="10.9">31160017</text><text x="149.4" y="936.3" font-size="10.6">Strainer for Tube</text><text x="33.5" y="950.9" text-anchor="middle" font-size="10.9">25</text><text x="96.8" y="950.9" text-anchor="middle" font-size="10.9">31160018</text><text x="149.4" y="950.9" font-size="10.6">Spray Outlet Fitting</text><text x="33.5" y="965.6" text-anchor="middle" font-size="10.9">26</text><text x="96.8" y="965.6" text-anchor="middle" font-size="10.9">81102200</text><text x="149.4" y="965.6" font-size="10.6">Gasket (S)</text><text x="33.5" y="980.2" text-anchor="middle" font-size="10.9">27</text><text x="96.8" y="980.2" text-anchor="middle" font-size="10.9">67022600</text><text x="149.4" y="980.2" font-size="10.6">Female Joint</text><text x="393.5" y="526.2" text-anchor="middle" font-size="10.6">Ref</text><text x="456.1" y="526.2" text-anchor="middle" font-size="10.6">Code No.</text><text x="578.4" y="526.2" text-anchor="middle" font-size="10.6">Description</text><text x="691.8" y="526.2" text-anchor="middle" font-size="10.6">Q'ty</text><text x="393.5" y="541.3" text-anchor="middle" font-size="10.9">28</text><text x="456.1" y="541.3" text-anchor="middle" font-size="10.9">67022700</text><text x="508.8" y="541.3" font-size="10.6">Male Joint</text><text x="691.8" y="541.3" text-anchor="middle" font-size="10.9">1 pc.</text><text x="393.5" y="555.9" text-anchor="middle" font-size="10.9">29</text><text x="456.1" y="555.9" text-anchor="middle" font-size="10.9">31160019</text><text x="508.8" y="555.9" font-size="10.6">Spray Hose</text><text x="691.8" y="555.9" text-anchor="middle" font-size="10.9">1 pc.</text><text x="393.5" y="570.6" text-anchor="middle" font-size="10.9">30</text><text x="456.1" y="570.6" text-anchor="middle" font-size="10.9">52111100</text><text x="508.8" y="570.6" font-size="10.6">Lever Cock Body</text><text x="691.8" y="570.6" text-anchor="middle" font-size="10.9">1 pc.</text><text x="393.5" y="585.2" text-anchor="middle" font-size="10.9">31</text><text x="456.1" y="585.2" text-anchor="middle" font-size="10.9">81000700</text><text x="508.8" y="585.2" font-size="10.6">O-Ring (P-12Vtn)</text><text x="691.8" y="585.2" text-anchor="middle" font-size="10.9">1 pc.</text><text x="393.5" y="599.8" text-anchor="middle" font-size="10.9">32</text><text x="456.1" y="599.8" text-anchor="middle" font-size="10.9">31160017</text><text x="508.8" y="599.8" font-size="10.6">Strainer</text><text x="691.8" y="599.8" text-anchor="middle" font-size="10.9">1 pc.</text><text x="393.5" y="614.5" text-anchor="middle" font-size="10.9">33</text><text x="456.1" y="614.5" text-anchor="middle" font-size="10.9">52111700</text><text x="508.8" y="614.5" font-size="10.6">Grip</text><text x="691.8" y="614.5" text-anchor="middle" font-size="10.9">1 pc.</text><text x="393.5" y="629.1" text-anchor="middle" font-size="10.9">34</text><text x="456.1" y="629.1" text-anchor="middle" font-size="10.9">52111500</text><text x="508.8" y="629.1" font-size="10.6">Nut</text><text x="691.8" y="629.1" text-anchor="middle" font-size="10.9">1 pc.</text><text x="393.5" y="643.7" text-anchor="middle" font-size="10.9">35</text><text x="456.1" y="643.7" text-anchor="middle" font-size="10.9">81000700</text><text x="508.8" y="643.7" font-size="10.6">O-Ring (P-12Vtn)</text><text x="691.8" y="643.7" text-anchor="middle" font-size="10.9">1 pc.</text><text x="393.5" y="658.3" text-anchor="middle" font-size="10.9">36</text><text x="456.1" y="658.3" text-anchor="middle" font-size="10.9">52111400</text><text x="508.8" y="658.3" font-size="10.6">Valve Spring</text><text x="691.8" y="658.3" text-anchor="middle" font-size="10.9">1 pc.</text><text x="393.5" y="673.0" text-anchor="middle" font-size="10.9">37</text><text x="456.1" y="673.0" text-anchor="middle" font-size="10.9">52111300</text><text x="508.8" y="673.0" font-size="10.6">Spring Guide</text><text x="691.8" y="673.0" text-anchor="middle" font-size="10.9">1 pc.</text><text x="393.5" y="687.6" text-anchor="middle" font-size="10.9">38</text><text x="456.1" y="687.6" text-anchor="middle" font-size="10.9">81100300</text><text x="508.8" y="687.6" font-size="10.6">Valve Packing</text><text x="691.8" y="687.6" text-anchor="middle" font-size="10.9">1 pc.</text><text x="393.5" y="702.2" text-anchor="middle" font-size="10.9">39</text><text x="456.1" y="702.2" text-anchor="middle" font-size="10.9">52111200</text><text x="508.8" y="702.2" font-size="10.6">Spindle</text><text x="691.8" y="702.2" text-anchor="middle" font-size="10.9">1 pc.</text><text x="393.5" y="716.9" text-anchor="middle" font-size="10.9">40</text><text x="456.1" y="716.9" text-anchor="middle" font-size="10.9">81000100</text><text x="508.8" y="716.9" font-size="10.6">O-Ring (P-5Vtn)</text><text x="691.8" y="716.9" text-anchor="middle" font-size="10.9">1 pc.</text><text x="393.5" y="731.5" text-anchor="middle" font-size="10.9">41</text><text x="456.1" y="731.5" text-anchor="middle" font-size="10.9">31160020</text><text x="508.8" y="731.5" font-size="10.6">Nozzle Extension Pipe</text><text x="691.8" y="731.5" text-anchor="middle" font-size="10.9">1 pc.</text><text x="393.5" y="746.1" text-anchor="middle" font-size="10.9">41-1</text><text x="456.1" y="746.1" text-anchor="middle" font-size="10.9">81102000</text><text x="508.8" y="746.1" font-size="10.6">Gasket (L)</text><text x="691.8" y="746.1" text-anchor="middle" font-size="10.9">3 pc.</text><text x="393.5" y="760.8" text-anchor="middle" font-size="10.9">42</text><text x="456.1" y="760.8" text-anchor="middle" font-size="10.9">81101900</text><text x="508.8" y="760.8" font-size="10.6">O-Ring(P-7)</text><text x="691.8" y="760.8" text-anchor="middle" font-size="10.9">1 pc.</text><text x="393.5" y="775.4" text-anchor="middle" font-size="10.9">43</text><text x="456.1" y="775.4" text-anchor="middle" font-size="10.9">92000000</text><text x="508.8" y="775.4" font-size="10.6">Flow Rate Control Valve</text><text x="691.8" y="775.4" text-anchor="middle" font-size="10.9">1 pc.</text><text x="393.5" y="790.0" text-anchor="middle" font-size="10.9">45</text><text x="456.1" y="790.0" text-anchor="middle" font-size="10.9">89220003</text><text x="508.8" y="790.0" font-size="10.6">Nozzle Tip</text><text x="691.8" y="790.0" text-anchor="middle" font-size="10.9">1 pc.</text><text x="393.5" y="804.6" text-anchor="middle" font-size="10.9">46</text><text x="456.1" y="804.6" text-anchor="middle" font-size="10.9">89220004</text><text x="508.8" y="804.6" font-size="10.6">Nozzle Cup</text><text x="691.8" y="804.6" text-anchor="middle" font-size="10.9">1 pc.</text><text x="393.5" y="819.3" text-anchor="middle" font-size="10.9">47</text><text x="456.1" y="819.3" text-anchor="middle" font-size="10.9">31160021</text><text x="508.8" y="819.3" font-size="10.6">Shoulder Band</text><text x="691.8" y="819.3" text-anchor="middle" font-size="10.9">1 pc.</text><text x="393.5" y="833.9" text-anchor="middle" font-size="10.9">47-1</text><text x="456.1" y="833.9" text-anchor="middle" font-size="10.9">92000000</text><text x="508.8" y="833.9" font-size="10.6">Tool Pouch</text><text x="691.8" y="833.9" text-anchor="middle" font-size="10.9">1 pc.</text><text x="393.5" y="848.5" text-anchor="middle" font-size="10.9">48</text><text x="456.1" y="848.5" text-anchor="middle" font-size="10.9">67081100</text><text x="508.8" y="848.5" font-size="10.6">Hose Clip (M00)</text><text x="691.8" y="848.5" text-anchor="middle" font-size="10.9">1 pc.</text><text x="393.5" y="863.2" text-anchor="middle" font-size="10.9">49</text><text x="456.1" y="863.2" text-anchor="middle" font-size="10.9">31160005</text><text x="508.8" y="863.2" font-size="10.6">Cotter Pin, Leather Cup</text><text x="691.8" y="863.2" text-anchor="middle" font-size="10.9">1 pc.</text><text x="393.5" y="877.8" text-anchor="middle" font-size="10.9">51</text><text x="456.1" y="877.8" text-anchor="middle" font-size="10.9">92000000</text><text x="508.8" y="877.8" font-size="10.6">Nozzle Holder Pipe for MR-8</text><text x="691.8" y="877.8" text-anchor="middle" font-size="10.9">1 pc.</text><text x="393.5" y="892.4" text-anchor="middle" font-size="10.9">51</text><text x="456.1" y="892.4" text-anchor="middle" font-size="10.9">92000000</text><text x="508.8" y="892.4" font-size="10.6">Nozzle Holder Pipe for MR-10</text><text x="691.8" y="892.4" text-anchor="middle" font-size="10.9">1 pc.</text><text x="393.5" y="907.1" text-anchor="middle" font-size="10.9">A-1</text><text x="456.1" y="907.1" text-anchor="middle" font-size="10.9">52112500</text><text x="508.8" y="907.1" font-size="10.6">Spindle Assy (No.37-40)</text><text x="691.8" y="907.1" text-anchor="middle" font-size="10.9">1 set</text><text x="508.8" y="921.7" font-size="10.6">Spanner S1(10 x 7)</text><text x="508.8" y="936.3" font-size="10.6">Spanner S2(17 x 11)</text><text x="508.8" y="950.9" font-size="10.6">Spanner S3(19 x 14)</text><text x="508.8" y="965.6" font-size="10.6">Spanner Big(26 x 24)</text><text x="393.5" y="986.6" text-anchor="middle" font-size="10.9">A-2</text><text x="456.1" y="986.6" text-anchor="middle" font-size="10.9">89220001</text><text x="508.8" y="979.6" font-size="10.6">Flat Nozzle Comp.</text><text x="537.3" y="993.4" font-size="10.6">(No.43, 41-1, 45,46)</text><text x="691.8" y="986.6" text-anchor="middle" font-size="10.9">1 set</text></g>
<g stroke="#7c5bc0" stroke-width="1.2" fill="none" stroke-linecap="round" stroke-linejoin="round"><path d="M254.5,575.5 L253.0,581.0 L260.5,580.7 M259.0,575.3 L258.4,585.5"/><path d="M267.2,697.0 Q264.6,695.5 267.6,692.8 Q271.0,692.5 270.2,695.7 Q269.5,698.0 265.2,700.5 Q268.8,699.7 272.5,702.5"/><path d="M267.0,783.3 L270.8,780.3 L270.4,790.3 M265.5,790.3 L275.2,789.3"/><path d="M264.5,838.8 L263.0,844.3 L270.5,844.0 M269.0,838.6 L268.4,848.8"/><path d="M271.5,853.5 L270.0,859.0 L277.5,858.7 M276.0,853.3 L275.4,863.5"/><path d="M264.5,868.1 L263.0,873.6 L270.5,873.3 M269.0,867.9 L268.4,878.1"/><path d="M267.2,916.5 Q264.6,915.0 267.6,912.3 Q271.0,912.0 270.2,915.2 Q269.5,917.5 265.2,920.0 Q268.8,919.2 272.5,922.0"/><path d="M267.2,960.4 Q264.6,958.9 267.6,956.2 Q271.0,955.9 270.2,959.1 Q269.5,961.4 265.2,963.9 Q268.8,963.1 272.5,965.9"/><path d="M623.5,575.5 L622.0,581.0 L629.5,580.7 M628.0,575.3 L627.4,585.5"/><path d="M625.5,590.1 L624.0,595.6 L631.5,595.3 M630.0,589.9 L629.4,600.1"/><path d="M631.2,682.4 Q628.6,680.9 631.6,678.2 Q635.0,677.9 634.2,681.1 Q633.5,683.4 629.2,685.9 Q632.8,685.1 636.5,687.9"/><path d="M632.2,711.7 Q629.6,710.2 632.6,707.5 Q636.0,707.2 635.2,710.4 Q634.5,712.7 630.2,715.2 Q633.8,714.4 637.5,717.2"/><path d="M634.0,724.8 L637.8,721.8 L637.4,731.8 M632.5,731.8 L642.2,730.8"/><path d="M629.0,737.4 Q637.2,736.4 631.2,741.4 Q638.0,742.4 629.0,746.4"/><path d="M636.2,755.6 Q633.6,754.1 636.6,751.4 Q640.0,751.1 639.2,754.3 Q638.5,756.6 634.2,759.1 Q637.8,758.3 641.5,761.1"/><path d="M637.5,853.5 L636.0,859.0 L643.5,858.7 M642.0,853.3 L641.4,863.5"/><path d="M638.2,901.9 Q635.6,900.4 638.6,897.6 Q642.0,897.4 641.2,900.6 Q640.5,902.9 636.2,905.4 Q639.8,904.6 643.5,907.4"/><path d="M638.0,973.0 L636.0,980.1 L645.8,979.8 M643.8,972.7 L643.0,986.0"/></g>
</svg>
</body></html>
